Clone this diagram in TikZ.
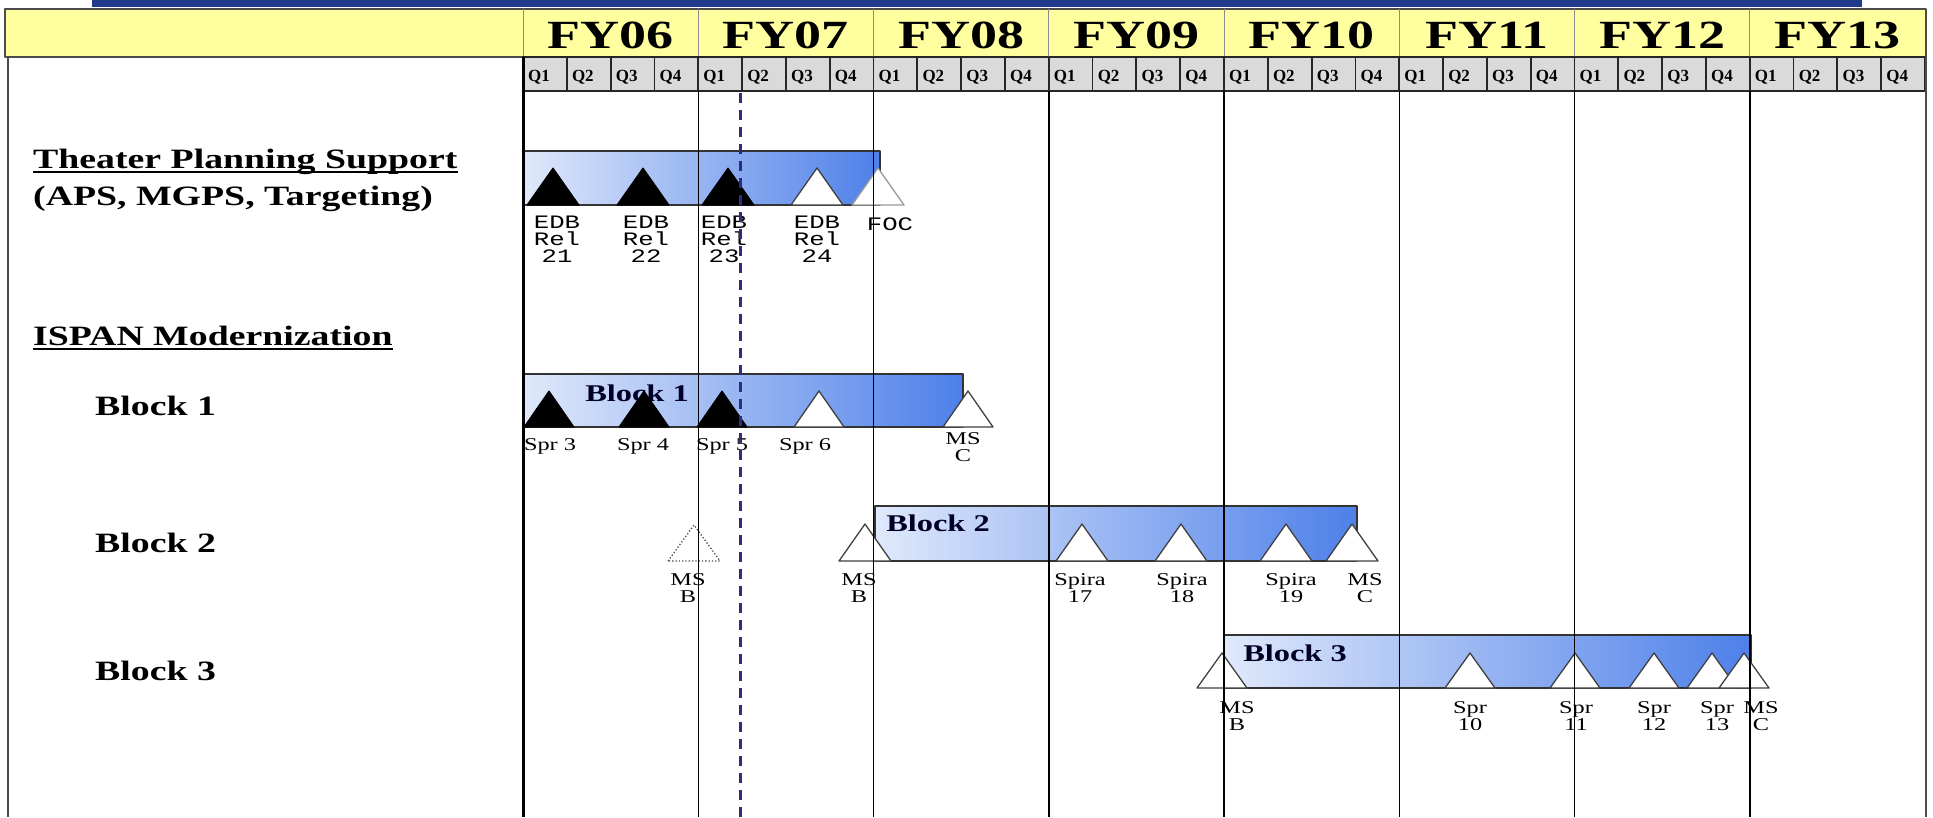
\documentclass[tikz,border=0pt]{standalone}
\usepackage{fontspec}
\setmainfont{Liberation Serif}[FakeStretch=1.35]
\newfontfamily\labelmono{Liberation Mono}[FakeStretch=1.35]
\newfontfamily\quarterfont{Liberation Serif}
\usetikzlibrary{calc}

\definecolor{headyellow}{RGB}{255,255,160}
\definecolor{headgrey}{RGB}{218,218,218}
\definecolor{barlight}{RGB}{224,233,251}
\definecolor{barmid}{RGB}{140,175,240}
\definecolor{bardark}{RGB}{78,128,233}
\definecolor{topband}{RGB}{32,58,140}
\definecolor{todayline}{RGB}{45,45,125}

\tikzset{
    fyhead/.style={font=\bfseries\fontsize{40}{42}\selectfont, anchor=base, inner sep=0},
    qhead/.style={font=\quarterfont\bfseries\fontsize{17}{18}\selectfont, anchor=base west, inner sep=0},
    qcell/.style={draw=black!85, line width=1.8, fill=headgrey},
    rowhead/.style={font=\bfseries\fontsize{28}{30}\selectfont, anchor=base west, inner sep=0},
    barname/.style={font=\bfseries\fontsize{24}{26}\selectfont, text=black!85!blue, inner sep=0},
    blockbar/.style={left color=barlight, middle color=barmid, right color=bardark, draw=black!80, line width=1.5},
    filledtri/.style={fill=black, draw=black, line width=1},
    opentri/.style={fill=white, draw=black!75, line width=1.3},
    dottedtri/.style={fill=white, draw=black!70, line width=1.3, dotted},
    edbl/.style={font=\labelmono\fontsize{19}{17}\selectfont, align=center, inner sep=0},
    msl/.style={font=\fontsize{18}{16.5}\selectfont, align=center, inner sep=0},
}

\begin{document}
\begin{tikzpicture}[x=1pt, y=-1pt, line join=round]

    \useasboundingbox (0,0) rectangle (1933,817);
    \fill[white] (0,0) rectangle (1933,817);

    % ==========================================
    % HEADER: FISCAL YEARS AND QUARTERS
    % ==========================================

    \fill[topband] (92,0) rectangle (1862,7);
    \draw[line width=1.5, draw=black!70, fill=headyellow] (5,9) rectangle (1926,57);
    \foreach \fy [count=\i from 0] in {06,07,08,09,10,11,12,13} {
        \pgfmathsetmacro{\xl}{523+175.25*\i}
        \draw[black!45, line width=1] (\xl,9) -- (\xl,57);
        \node[fyhead] (fy\fy) at (\xl+87.6,48) {FY\fy};
        \foreach \q in {1,2,3,4} {
            \pgfmathsetmacro{\xq}{\xl+43.8*(\q-1)}
            \draw[qcell] (\xq,57) rectangle ++(43.8,34);
            \node[qhead] (q\fy\q) at (\xq+5,81) {Q\q};
        }
    }

    % outer frame of the chart
    \draw[black!70, line width=2] (8,57) -- (8,817);
    \draw[black!70, line width=1.5] (1926,57) -- (1926,817);

    % ==========================================
    % ROW HEADINGS
    % ==========================================

    \node[rowhead] (tps) at (33,168) {Theater Planning Support};
    \node[rowhead] (tpsub) at (33,205) {(APS, MGPS, Targeting)};
    \node[rowhead] (ispan) at (33,345) {ISPAN Modernization};
    \draw[line width=1.5] ([yshift=-4pt]tps.base west) -- ([yshift=-4pt]tps.base east);
    \draw[line width=1.5] ([yshift=-4pt]ispan.base west) -- ([yshift=-4pt]ispan.base east);

    \node[rowhead] (blk1) at (95,415) {Block 1};
    \node[rowhead] (blk2) at (95,552) {Block 2};
    \node[rowhead] (blk3) at (95,680) {Block 3};

    % ==========================================
    % BARS
    % ==========================================

    \draw[blockbar] (523,151) rectangle (880,205);
    \draw[blockbar] (523,374) rectangle (963,427);
    \draw[blockbar] (875,506) rectangle (1357,561);
    \draw[blockbar] (1224,635) rectangle (1751,688);

    \node[barname] (bar1) at (637,393) {Block 1};
    \node[barname] (bar2) at (938,523) {Block 2};
    \node[barname] (bar3) at (1295,653) {Block 3};

    % ==========================================
    % MILESTONES (base centre, then up to the apex)
    % ==========================================

    % theater planning support
    \foreach \x in {553,643,728}
        \draw[filledtri] (\x,205) ++(-26,0) -- ++(26,-37) -- ++(26,37) -- cycle;
    \draw[opentri] (817,205) ++(-26,0) -- ++(26,-37) -- ++(26,37) -- cycle;
    \draw[opentri, draw=black!40] (878,205) ++(-26,0) -- ++(26,-37) -- ++(26,37) -- cycle;

    \node[edbl] (rel21) at (557,239) {EDB\\Rel\\21};
    \node[edbl] (rel22) at (646,239) {EDB\\Rel\\22};
    \node[edbl] (rel23) at (724,239) {EDB\\Rel\\23};
    \node[edbl] (rel24) at (817,239) {EDB\\Rel\\24};
    \node[edbl] (foc) at (890,224) {FOC};

    % block 1
    \foreach \x in {549,644,722}
        \draw[filledtri] (\x,427) ++(-25,0) -- ++(25,-36) -- ++(25,36) -- cycle;
    \foreach \x in {819,968}
        \draw[opentri] (\x,427) ++(-25,0) -- ++(25,-36) -- ++(25,36) -- cycle;

    \node[msl] (spr3) at (550,446) {Spr 3};
    \node[msl] (spr4) at (643,446) {Spr 4};
    \node[msl] (spr5) at (722,446) {Spr 5};
    \node[msl] (spr6) at (805,446) {Spr 6};
    \node[msl] (msc1) at (963,447) {MS\\C};

    % block 2
    \draw[dottedtri] (694,561) ++(-26,0) -- ++(26,-36) -- ++(26,36) -- cycle;
    \foreach \x in {865,1082,1181,1286,1352}
        \draw[opentri] (\x,561) ++(-26,0) -- ++(26,-37) -- ++(26,37) -- cycle;

    \node[msl] (msb0) at (688,588) {MS\\B};
    \node[msl] (msb2) at (859,588) {MS\\B};
    \node[msl] (spira17) at (1080,588) {Spira\\17};
    \node[msl] (spira18) at (1182,588) {Spira\\18};
    \node[msl] (spira19) at (1291,588) {Spira\\19};
    \node[msl] (msc2) at (1365,588) {MS\\C};

    % block 3
    \foreach \x in {1222,1470,1575,1654,1712,1744}
        \draw[opentri] (\x,688) ++(-25,0) -- ++(25,-35) -- ++(25,35) -- cycle;

    \node[msl] (msb3) at (1237,716) {MS\\B};
    \node[msl] (spr10) at (1470,716) {Spr\\10};
    \node[msl] (spr11) at (1576,716) {Spr\\11};
    \node[msl] (spr12) at (1654,716) {Spr\\12};
    \node[msl] (spr13) at (1717,716) {Spr\\13};
    \node[msl] (msc3) at (1761,716) {MS\\C};

    % ==========================================
    % YEAR LINES AND STATUS DATE
    % ==========================================

    \draw[line width=3] (523,57) -- (523,817);
    \foreach \i in {1,...,7}
        \draw[line width=1.5] (523+175.25*\i,91) -- (523+175.25*\i,817);

    \draw[todayline, line width=3, dash pattern=on 10pt off 7pt] (740,93) -- (740,817);

\end{tikzpicture}
\end{document}
